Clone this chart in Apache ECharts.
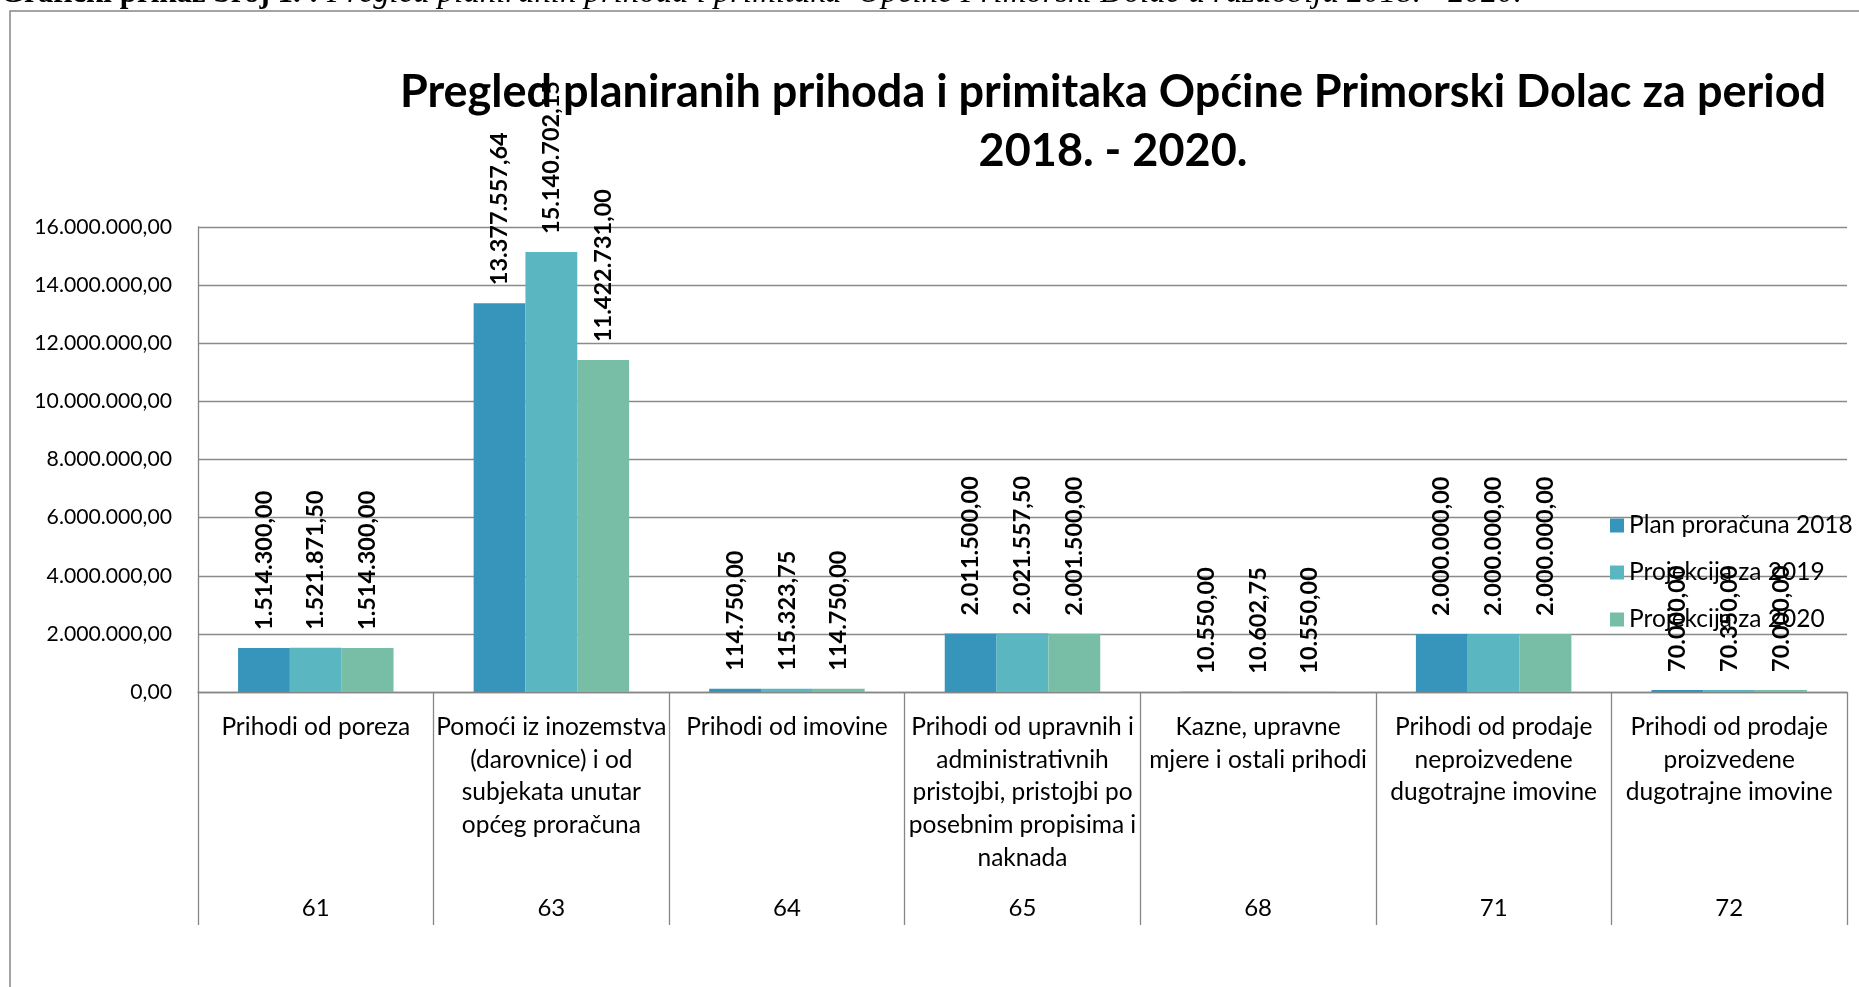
<!DOCTYPE html>
<html>
<head>
<meta charset="utf-8">
<script src="https://cdn.jsdelivr.net/npm/echarts@6/dist/echarts.min.js"></script>
<style>
  html, body { margin: 0; padding: 0; background: #fff; }
  #chart { width: 1859px; height: 987px; }
</style>
</head>
<body>
<div id="chart"></div>
<script>
const categories = [
  'Prihodi od poreza',
  'Pomoći iz inozemstva\n(darovnice) i od\nsubjekata unutar\nopćeg proračuna',
  'Prihodi od imovine',
  'Prihodi od upravnih i\nadministrativnih\npristojbi, pristojbi po\nposebnim propisima i\nnaknada',
  'Kazne, upravne\nmjere i ostali prihodi',
  'Prihodi od prodaje\nneproizvedene\ndugotrajne imovine',
  'Prihodi od prodaje\nproizvedene\ndugotrajne imovine'
];
const codes = ['61', '63', '64', '65', '68', '71', '72'];
const seriesNames = ['Plan proračuna 2018', 'Projekcija za 2019', 'Projekcija za 2020'];
const plan2018 = [1514300.00, 13377557.64, 114750.00, 2011500.00, 10550.00, 2000000.00, 70000.00];
const proj2019 = [1521871.50, 15140702.15, 115323.75, 2021557.50, 10602.75, 2000000.00, 70350.00];
const proj2020 = [1514300.00, 11422731.00, 114750.00, 2001500.00, 10550.00, 2000000.00, 70000.00];
const yMin = 0, yMax = 16000000, yStep = 2000000;
const titleLines = ['Pregled planiranih prihoda i primitaka Općine Primorski Dolac za period', '2018. - 2020.'];
const captionBold = 'Grafički prikaz broj 1. :';
const captionItalic = ' Pregled planiranih prihoda i primitaka  Općine Primorski Dolac u razdoblju 2018. - 2020.';

const colors = ['#3795bc', '#5ab6c1', '#78bea6'];
const FONT = 'Lato, "Open Sans", sans-serif';

function fmt(v) {
  const s = Number(v).toFixed(2);
  let parts = s.split('.');
  const i = parts[0].replace(/\B(?=(\d{3})+(?!\d))/g, '.');
  return i + ',' + parts[1];
}

const seriesData = [plan2018, proj2019, proj2020];

const chart = echarts.init(document.getElementById('chart'), null, { renderer: 'canvas' });

const option = {
  backgroundColor: '#ffffff',
  animation: false,
  color: colors,
  grid: { left: 198, right: 12, top: 227, bottom: 295, containLabel: false },
  legend: {
    orient: 'vertical',
    left: 1605,
    top: 508,
    itemWidth: 14,
    itemHeight: 14,
    itemGap: 22,
    icon: 'rect',
    textStyle: { fontFamily: FONT, fontSize: 24.5, color: '#000', lineHeight: 25 },
    data: seriesNames
  },
  xAxis: [
    {
      type: 'category',
      data: categories,
      position: 'bottom',
      axisLine: { show: true, lineStyle: { color: '#868686', width: 1.3 } },
      axisTick: { show: true, interval: 0, length: 233, lineStyle: { color: '#868686', width: 1.3 } },
      axisLabel: {
        interval: 0,
        margin: 19,
        fontFamily: FONT,
        fontSize: 24.5,
        lineHeight: 32.6,
        color: '#000',
        align: 'center'
      }
    },
    {
      type: 'category',
      data: codes,
      position: 'bottom',
      gridIndex: 0,
      axisLine: { show: false },
      axisTick: { show: false },
      axisLabel: {
        interval: 0,
        margin: 204,
        fontFamily: FONT,
        fontSize: 24,
        lineHeight: 24,
        color: '#000'
      }
    }
  ],
  yAxis: {
    type: 'value',
    min: yMin,
    max: yMax,
    interval: yStep,
    axisLine: { show: true, lineStyle: { color: '#868686', width: 1.3 } },
    axisTick: { show: false },
    splitLine: { show: true, lineStyle: { color: '#8a8a8a', width: 1.3 } },
    axisLabel: {
      margin: 26,
      fontFamily: FONT,
      fontSize: 21.2,
      color: '#000',
      formatter: function (v) { return fmt(v); }
    }
  },
  series: seriesNames.map(function (name, idx) {
    return {
      name: name,
      type: 'bar',
      xAxisIndex: 0,
      data: seriesData[idx],
      barGap: '0%',
      barCategoryGap: '34%',
      itemStyle: { color: colors[idx] },
      label: {
        show: true,
        position: 'top',
        distance: 18,
        rotate: 90,
        align: 'left',
        verticalAlign: 'middle',
        fontFamily: FONT,
        fontWeight: 'bold',
        fontSize: 23.5,
        color: '#000',
        formatter: function (p) { return fmt(p.value); }
      },
      z: 2
    };
  }),
  graphic: [
    {
      type: 'rect',
      shape: { x: 10, y: 11, width: 1900, height: 1000 },
      style: { fill: 'none', stroke: '#868686', lineWidth: 1.5 },
      silent: true,
      z: 0
    },
    {
      type: 'text',
      x: 0,
      y: 10,
      style: {
        text: '{b|' + captionBold + '}{i|' + captionItalic + '}',
        verticalAlign: 'bottom',
        align: 'left',
        rich: {
          b: { fontFamily: '"Liberation Serif", "Times New Roman", serif', fontWeight: 'bold', fontSize: 31, fill: '#000' },
          i: { fontFamily: '"Liberation Serif", "Times New Roman", serif', fontStyle: 'italic', fontSize: 32.8, fill: '#000' }
        }
      },
      silent: true,
      z: 10
    },
    {
      type: 'text',
      x: 1113,
      y: 92,
      style: {
        text: titleLines[0],
        align: 'center',
        verticalAlign: 'middle',
        font: 'bold 45px ' + FONT,
        fill: '#000'
      },
      silent: true,
      z: 10
    },
    {
      type: 'text',
      x: 1113,
      y: 151,
      style: {
        text: titleLines[1],
        align: 'center',
        verticalAlign: 'middle',
        font: 'bold 45px ' + FONT,
        fill: '#000'
      },
      silent: true,
      z: 10
    }
  ]
};

chart.setOption(option);
</script>
</body>
</html>
